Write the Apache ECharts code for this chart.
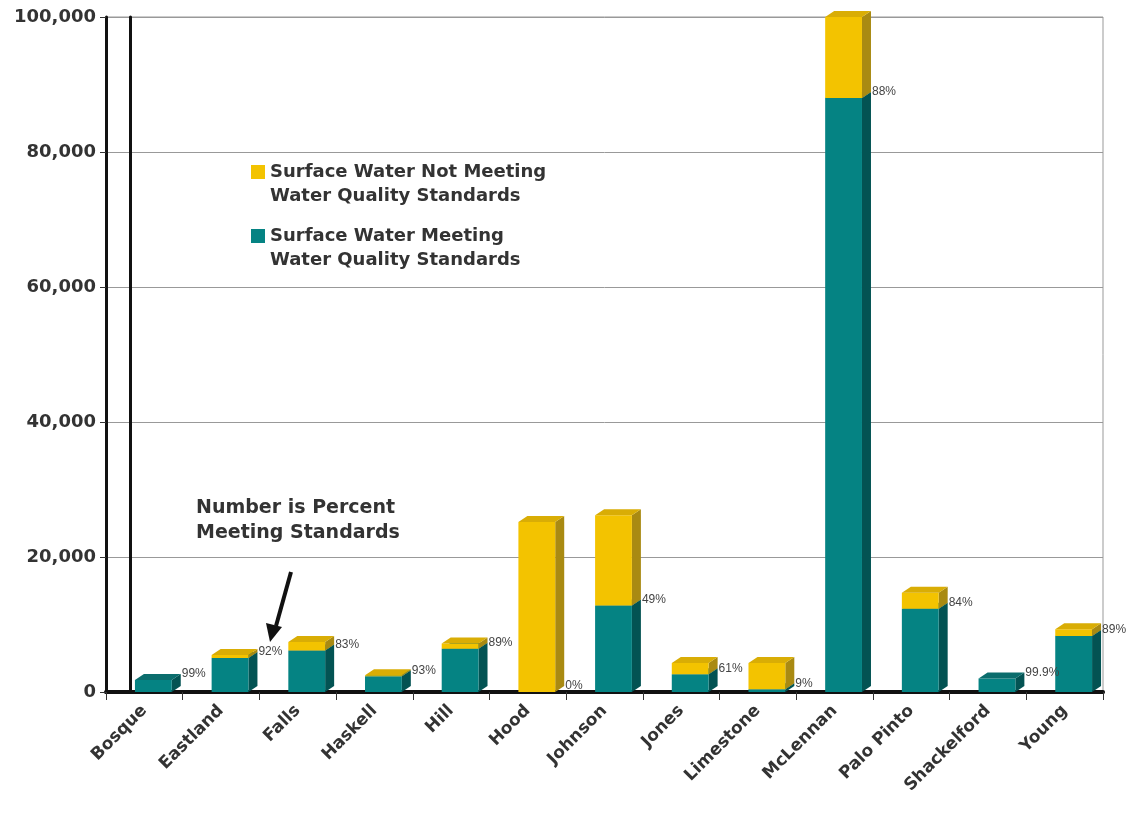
<!DOCTYPE html>
<html>
<head>
<meta charset="utf-8">
<script src="https://cdn.jsdelivr.net/npm/echarts/dist/echarts.min.js"></script>
<style>
  html, body { margin: 0; padding: 0; background: #fff; }
  #main { width: 1129px; height: 822px; }
</style>
</head>
<body>
<div id="main"></div>
<script>
const counties = ["Bosque", "Eastland", "Falls", "Haskell", "Hill", "Hood", "Johnson",
  "Jones", "Limestone", "McLennan", "Palo Pinto", "Shackelford", "Young"];
// surface water meeting standards
const meeting = [1780, 5050, 6150, 2330, 6400, 0, 12800, 2620, 390, 88000, 12350, 2000, 8300];
// surface water not meeting standards
const notMeeting = [20, 450, 1250, 170, 800, 25200, 13400, 1680, 3910, 12000, 2350, 2, 1000];
const pctLabels = ["99%", "92%", "83%", "93%", "89%", "0%", "49%", "61%", "9%", "88%", "84%", "99.9%", "89%"];
const yTicks = [0, 20000, 40000, 60000, 80000, 100000];

const teal = { front: "#058383", side: "#035353", top: "#0b6d6d" };
const gold = { front: "#f3c300", side: "#a98a12", top: "#d9ad05" };
const DX = 9, DY = -6, SHIFT = 9;

function bar3d(faces, withLabel) {
  return function (params, api) {
    const i = api.value(0), lo = api.value(1), hi = api.value(2);
    const b = api.coord([i, lo]), t = api.coord([i, hi]);
    const bw = api.size([1, 0])[0] * 0.48;
    const x0 = b[0] + SHIFT - bw / 2, x1 = x0 + bw;
    const yb = b[1], yt = t[1];
    const kids = [];
    if (yb - yt >= 1) {
      kids.push(
        { type: "polygon", shape: { points: [[x1, yb], [x1 + DX, yb + DY], [x1 + DX, yt + DY], [x1, yt]] }, style: { fill: faces.side } },
        { type: "rect", shape: { x: x0, y: yt, width: bw, height: yb - yt }, style: { fill: faces.front } },
        { type: "polygon", shape: { points: [[x0, yt], [x1, yt], [x1 + DX, yt + DY], [x0 + DX, yt + DY]] }, style: { fill: faces.top } }
      );
    }
    if (withLabel) {
      kids.push({
        type: "text", x: x1 + DX + 1, y: yt - 6, z2: 100,
        style: { text: pctLabels[i], fill: "#444", font: "12px 'Liberation Sans', Arial", verticalAlign: "middle" }
      });
    }
    return { type: "group", children: kids };
  };
}

const fontFam = "'DejaVu Sans', Arial, sans-serif";
// square at the top of a tall box, so the swatch sits beside the first text line
const legendIcon = "path://M0,0L14,0L14,14L0,14Z M0,38L0.01,38L0,38Z";
const chart = echarts.init(document.getElementById("main"));
chart.setOption({
  animation: false,
  grid: { left: 106, right: 26, top: 17, bottom: 130, show: true, borderColor: "#999", borderWidth: 1 },
  legend: {
    orient: "vertical",
    left: 246, top: 155,
    icon: legendIcon,
    itemWidth: 14, itemHeight: 38, itemGap: 16,
    textStyle: { fontFamily: fontFam, fontWeight: "bold", fontSize: 18, color: "#333", lineHeight: 24 },
    data: ["Surface Water Not Meeting\nWater Quality Standards", "Surface Water Meeting\nWater Quality Standards"]
  },
  xAxis: [{
    type: "category",
    data: counties,
    axisLine: { lineStyle: { color: "#111", width: 3 } },
    axisTick: { show: true, length: 8, lineStyle: { color: "#333" } },
    axisLabel: { rotate: 45, margin: 16, fontFamily: fontFam, fontWeight: "bold", fontSize: 17, color: "#333" }
  }, {
    type: "category",
    position: "top",
    data: counties,
    axisLine: { lineStyle: { color: "#111", width: 4 } },
    axisTick: { show: false },
    axisLabel: { show: false }
  }],
  yAxis: [{
    type: "value",
    min: yTicks[0], max: yTicks[yTicks.length - 1], interval: yTicks[1] - yTicks[0],
    axisLine: { show: true, lineStyle: { color: "#111", width: 3 } },
    axisTick: { show: true, length: 6, lineStyle: { color: "#333" } },
    axisLabel: {
      margin: 10, fontFamily: fontFam, fontWeight: "bold", fontSize: 18, color: "#333",
      formatter: v => v.toLocaleString("en-US")
    },
    splitLine: { lineStyle: { color: "#999", width: 1 } }
  }, {
    type: "value",
    position: "left",
    offset: -24,
    min: yTicks[0], max: yTicks[yTicks.length - 1],
    axisLine: { show: true, lineStyle: { color: "#111", width: 3 } },
    axisTick: { show: false },
    axisLabel: { show: false },
    splitLine: { show: false }
  }],
  series: [{
    name: "Surface Water Meeting\nWater Quality Standards",
    type: "custom",
    itemStyle: { color: teal.front },
    encode: { x: 0, y: [1, 2] },
    renderItem: bar3d(teal, true),
    data: counties.map((c, i) => [i, 0, meeting[i]])
  }, {
    name: "Surface Water Not Meeting\nWater Quality Standards",
    type: "custom",
    itemStyle: { color: gold.front },
    encode: { x: 0, y: [1, 2] },
    renderItem: bar3d(gold, false),
    data: counties.map((c, i) => [i, meeting[i], meeting[i] + notMeeting[i]])
  }],
  graphic: [{
    type: "text", left: 196, top: 496,
    style: { text: "Number is Percent\nMeeting Standards", font: "bold 19px " + fontFam, fill: "#333", lineHeight: 25 }
  }, {
    type: "line", shape: { x1: 291, y1: 572, x2: 276, y2: 626 },
    style: { stroke: "#111", lineWidth: 4 }
  }, {
    type: "polygon", shape: { points: [[266, 623], [282, 627], [270, 642]] },
    style: { fill: "#111" }
  }]
});
</script>
</body>
</html>
